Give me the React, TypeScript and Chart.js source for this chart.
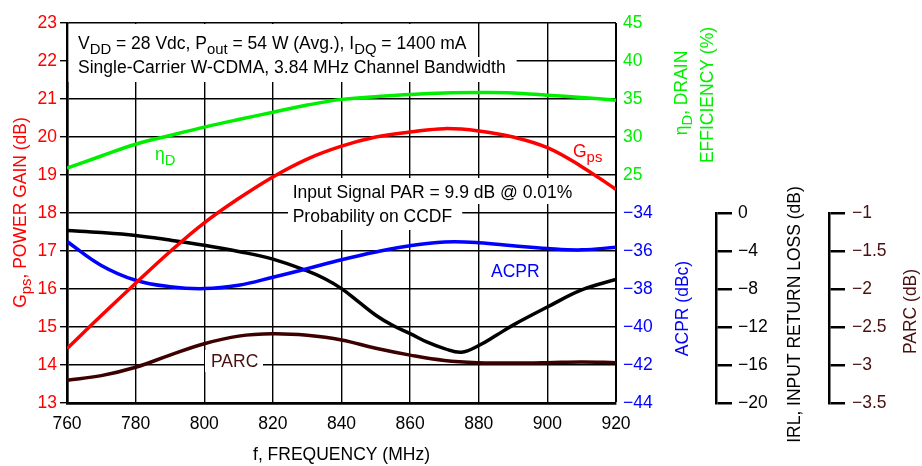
import React, { useEffect, useRef } from 'react';
import { Chart, registerables } from 'chart.js';

Chart.register(...registerables);

// ---------------- data ----------------
const freqMHz = [760, 770, 780, 790, 800, 810, 820, 830, 840, 850, 860, 870, 880, 890, 900, 910, 920];
const gainDb = [14.43, 15.3, 16.15, 16.98, 17.74, 18.38, 18.95, 19.42, 19.76, 20.0, 20.13, 20.22, 20.16, 20.0, 19.72, 19.22, 18.62];
const drainEffPct = [25.9, 27.5, 29.05, 30.2, 31.3, 32.3, 33.25, 34.2, 34.95, 35.3, 35.6, 35.8, 35.85, 35.8, 35.5, 35.2, 34.85];
const acprDbc = [-35.5, -36.76, -37.54, -37.88, -37.98, -37.8, -37.38, -36.93, -36.46, -36.05, -35.72, -35.53, -35.56, -35.72, -35.87, -35.94, -35.8];
const parcDb = [-3.2, -3.14, -3.03, -2.87, -2.72, -2.62, -2.59, -2.61, -2.67, -2.78, -2.87, -2.94, -2.97, -2.975, -2.97, -2.96, -2.97];
const irlFreqMHz = [760, 770, 780, 790, 800, 810, 820, 830, 835, 840, 845, 850, 855, 860, 865, 870, 875, 880, 885, 890, 900, 910, 920];
const irlDb = [-1.84, -2.05, -2.36, -2.85, -3.4, -4.05, -4.85, -6.1, -6.9, -7.96, -9.36, -10.76, -11.85, -12.7, -13.6, -14.27, -14.65, -13.95, -12.9, -11.8, -9.9, -8.1, -7.0];

const freqTicks = [760, 780, 800, 820, 840, 860, 880, 900, 920];
const gainTicks = [13, 14, 15, 16, 17, 18, 19, 20, 21, 22, 23];
const effTicks = [25, 30, 35, 40, 45];
const acprTicks = [-44, -42, -40, -38, -36, -34];
const irlTicks = [-20, -16, -12, -8, -4, 0];
const parcTicks = [-3.5, -3, -2.5, -2, -1.5, -1];

// ---------------- styles ----------------
const FAMILY = "'Liberation Sans', Arial, Helvetica, sans-serif";
const FS = 17.5;
const RED = '#ff0000';
const GREEN = '#00ee00';
const BLUE = '#0000ff';
const BROWN = '#3c0000';
const BROWN_TEXT = '#4a1010';
const BLACK = '#000000';

type Seg = { t: string; sub?: boolean };

const fmt = (v: number) => (v < 0 ? '\u2212' + String(-v) : String(v));
const pts = (xs: number[], ys: number[]) => xs.map((x, i) => ({ x, y: ys[i] }));
const setTicks = (vals: number[]) => (scale: any) => {
  scale.ticks = vals.map((v) => ({ value: v }));
};

function richWidth(ctx: CanvasRenderingContext2D, segs: Seg[], size: number) {
  let w = 0;
  for (const s of segs) {
    ctx.font = `${s.sub ? size * 0.85 : size}px ${FAMILY}`;
    w += ctx.measureText(s.t).width;
  }
  return w;
}

function drawRich(ctx: CanvasRenderingContext2D, segs: Seg[], x: number, y: number, size: number, color: string) {
  ctx.fillStyle = color;
  ctx.textAlign = 'left';
  ctx.textBaseline = 'alphabetic';
  let cx = x;
  for (const s of segs) {
    const fs = s.sub ? size * 0.85 : size;
    ctx.font = `${fs}px ${FAMILY}`;
    ctx.fillText(s.t, cx, s.sub ? y + size * 0.3 : y);
    cx += ctx.measureText(s.t).width;
  }
  return cx;
}

// rotated (-90deg) title centred at (cx, cy), caps centred on cx
function drawVTitle(ctx: CanvasRenderingContext2D, segs: Seg[], cx: number, cy: number, color: string) {
  ctx.save();
  ctx.translate(cx, cy);
  ctx.rotate(-Math.PI / 2);
  const w = richWidth(ctx, segs, FS);
  drawRich(ctx, segs, -w / 2, FS * 0.36, FS, color);
  ctx.restore();
}

const infoLine1: Seg[] = [
  { t: 'V' }, { t: 'DD', sub: true }, { t: ' = 28 Vdc, P' }, { t: 'out', sub: true },
  { t: ' = 54 W (Avg.), I' }, { t: 'DQ', sub: true }, { t: ' = 1400 mA' },
];
const infoLine2: Seg[] = [{ t: 'Single-Carrier W-CDMA, 3.84 MHz Channel Bandwidth' }];
const parLine1: Seg[] = [{ t: 'Input Signal PAR = 9.9 dB @ 0.01%' }];
const parLine2: Seg[] = [{ t: 'Probability on CCDF' }];

const overlayPlugin = {
  id: 'overlay',
  beforeDatasetsDraw(chart: any) {
    const ctx: CanvasRenderingContext2D = chart.ctx;
    ctx.save();
    const w1 = richWidth(ctx, infoLine1, FS);
    const w2 = richWidth(ctx, infoLine2, FS);
    const w3 = richWidth(ctx, parLine1, FS);
    const w4 = richWidth(ctx, parLine2, FS);
    ctx.fillStyle = '#ffffff';
    ctx.fillRect(68.5, 24, 78 + w1 + 10 - 68.5, 57 - 24);
    ctx.fillRect(68.5, 57, 78 + w2 + 11 - 68.5, 82 - 57);
    ctx.fillRect(288, 178, 292.7 + w3 + 10 - 288, 204 - 178);
    ctx.fillRect(288, 204, 292.7 + w4 + 10 - 288, 230 - 204);
    ctx.fillRect(205, 350, 263 - 205, 372 - 350);

    drawRich(ctx, infoLine1, 78, 48.5, FS, BLACK);
    drawRich(ctx, infoLine2, 78, 72.7, FS, BLACK);
    drawRich(ctx, parLine1, 292.7, 198, FS, BLACK);
    drawRich(ctx, parLine2, 292.7, 221.7, FS, BLACK);

    drawRich(ctx, [{ t: '\u03B7' }, { t: 'D', sub: true }], 155, 160, FS, GREEN);
    drawRich(ctx, [{ t: 'G' }, { t: 'ps', sub: true }], 573, 157, FS, RED);
    drawRich(ctx, [{ t: 'ACPR' }], 491, 277, FS, BLUE);
    drawRich(ctx, [{ t: 'PARC' }], 211, 367, FS, BROWN_TEXT);
    ctx.restore();
  },
  afterDraw(chart: any) {
    const ctx: CanvasRenderingContext2D = chart.ctx;
    ctx.save();
    drawVTitle(ctx, [{ t: 'G' }, { t: 'ps', sub: true }, { t: ', POWER GAIN (dB)' }], 19.3, 212.5, RED);
    drawVTitle(ctx, [{ t: '\u03B7' }, { t: 'D', sub: true }, { t: ', DRAIN' }], 680.7, 93, GREEN);
    drawVTitle(ctx, [{ t: 'EFFICIENCY (%)' }], 707, 95, GREEN);
    drawVTitle(ctx, [{ t: 'ACPR (dBc)' }], 681.5, 308.5, BLUE);
    drawVTitle(ctx, [{ t: 'IRL, INPUT RETURN LOSS (dB)' }], 793.5, 314.5, BLACK);
    drawVTitle(ctx, [{ t: 'PARC (dB)' }], 910, 311.5, BROWN_TEXT);
    ctx.restore();
  },
};

const font = { family: FAMILY, size: FS };

const hiddenScale = (stack: string, weight: number, stackWeight: number) => ({
  type: 'linear',
  position: 'right',
  stack,
  weight,
  stackWeight,
  min: 0,
  max: 1,
  ticks: { display: false },
  grid: { display: false, drawTicks: false },
  border: { display: false },
  afterFit: (s: any) => { s.width = 0; },
});

const bracketScale = (
  stack: string, weight: number, min: number, max: number, tickVals: number[], color: string, width: number, pad: number,
) => ({
  type: 'linear',
  position: 'right',
  stack,
  weight,
  stackWeight: 1,
  min,
  max,
  afterBuildTicks: setTicks(tickVals),
  ticks: { color, font, padding: pad, autoSkip: false, callback: (v: any) => fmt(Number(v)) },
  grid: { display: true, drawOnChartArea: false, drawTicks: true, tickLength: 16, color: BLACK, lineWidth: 2.5 },
  border: { display: true, color: BLACK, width: 2.5 },
  afterFit: (s: any) => { s.width = width; },
});

export default function App() {
  const ref = useRef<HTMLCanvasElement>(null);
  useEffect(() => {
    document.body.style.margin = '0';
    const line = (label: string, data: any[], color: string, yAxisID: string) => ({
      label,
      data,
      yAxisID,
      xAxisID: 'x',
      borderColor: color,
      backgroundColor: color,
      borderWidth: 3.5,
      pointRadius: 0,
      fill: false,
      tension: 0.4,
    });
    const chart = new Chart(ref.current as HTMLCanvasElement, {
      type: 'line',
      data: {
        datasets: [
          line('ηD', pts(freqMHz, drainEffPct), GREEN, 'yEff'),
          line('Gps', pts(freqMHz, gainDb), RED, 'y'),
          line('ACPR', pts(freqMHz, acprDbc), BLUE, 'yAcpr'),
          line('IRL', pts(irlFreqMHz, irlDb), BLACK, 'yIrl'),
          line('PARC', pts(freqMHz, parcDb), BROWN, 'yParc'),
        ] as any,
      },
      options: {
        animation: false,
        responsive: false,
        maintainAspectRatio: false,
        layout: { padding: { top: 23, left: 0, right: 0, bottom: 0 } },
        plugins: { legend: { display: false }, tooltip: { enabled: false } },
        scales: {
          x: {
            type: 'linear',
            position: 'bottom',
            min: 760,
            max: 920,
            afterBuildTicks: setTicks(freqTicks),
            ticks: { color: BLACK, font, padding: 11, maxRotation: 0, autoSkip: false, callback: (v: any) => fmt(Number(v)) },
            grid: {
              color: BLACK,
              lineWidth: (c: any) => (c.tick && c.tick.value === 920 ? 2 : 1.4),
              drawTicks: false,
            },
            border: { display: true, color: BLACK, width: 2.7 },
            title: { display: true, text: 'f, FREQUENCY (MHz)', color: BLACK, font, padding: 0 },
            afterFit: (s: any) => { s.height = 63; },
          },
          y: {
            type: 'linear',
            position: 'left',
            min: 13,
            max: 23,
            afterBuildTicks: setTicks(gainTicks),
            ticks: { color: RED, font, padding: 3, autoSkip: false, callback: (v: any) => fmt(Number(v)) },
            grid: { color: BLACK, lineWidth: 1.4, drawTicks: true, tickLength: 7 },
            border: { display: true, color: BLACK, width: 2.7 },
            afterFit: (s: any) => { s.width = 67; },
          },
          yEff: {
            type: 'linear',
            position: 'right',
            stack: 'a',
            weight: 1,
            stackWeight: 4,
            min: 25,
            max: 45,
            afterBuildTicks: setTicks(effTicks),
            ticks: { color: GREEN, font, padding: 7, autoSkip: false, callback: (v: any) => fmt(Number(v)) },
            grid: { display: false, drawTicks: false },
            border: { display: false },
            afterFit: (s: any) => { s.width = 100; },
          },
          yGap: hiddenScale('a', 2, 1),
          yAcpr: {
            type: 'linear',
            position: 'right',
            stack: 'a',
            weight: 3,
            stackWeight: 5,
            min: -44,
            max: -34,
            afterBuildTicks: setTicks(acprTicks),
            ticks: { color: BLUE, font, padding: 7, autoSkip: false, callback: (v: any) => fmt(Number(v)) },
            grid: { display: false, drawTicks: false },
            border: { display: false },
            afterFit: (s: any) => { s.width = 100; },
          },
          irlTop: hiddenScale('b', 4, 1),
          yIrl: bracketScale('b', 5, -20, 0, irlTicks, BLACK, 113, 6),
          parcTop: hiddenScale('c', 6, 1),
          yParc: bracketScale('c', 7, -3.5, -1, parcTicks, BROWN_TEXT, 93, 7),
        } as any,
      },
      plugins: [overlayPlugin as any],
    });
    return () => chart.destroy();
  }, []);
  return (
    <div style={{ width: 922, height: 466 }}>
      <canvas ref={ref} width={922} height={466} style={{ display: 'block' }} />
    </div>
  );
}
